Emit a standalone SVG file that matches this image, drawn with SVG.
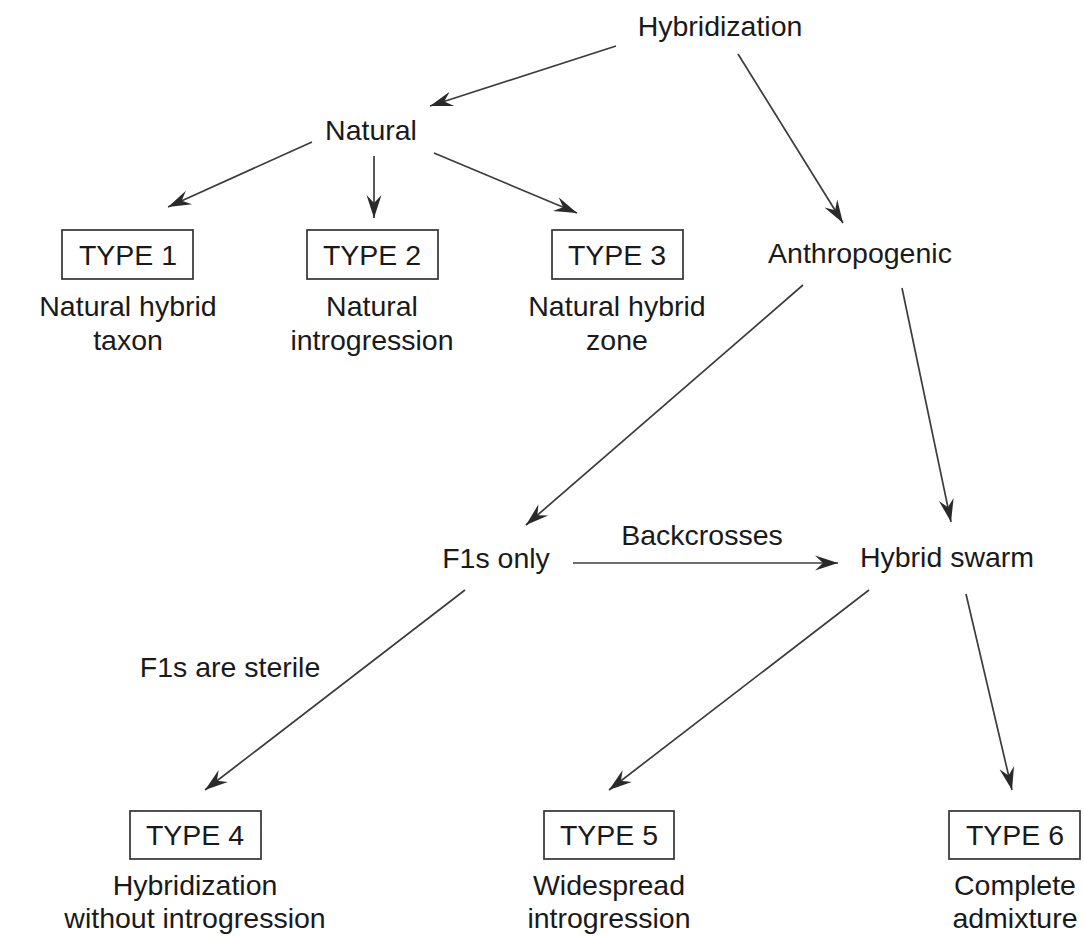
<svg xmlns="http://www.w3.org/2000/svg" width="1084" height="936" viewBox="0 0 1084 936">
<defs>
<style>
text{font-family:"Liberation Sans",Arial,Helvetica,sans-serif;font-size:28.5px;fill:#1a1a1a;text-anchor:middle}
.box{fill:none;stroke:#333;stroke-width:1.7}
.edge{stroke:#3c3c3c;stroke-width:1.7;fill:none;marker-end:url(#ah)}
</style>
<marker id="ah" viewBox="-24 -9 26 18" refX="0" refY="0" markerWidth="26" markerHeight="18" markerUnits="userSpaceOnUse" orient="auto">
<path d="M0,0 L-23,-7.5 L-15,0 L-23,7.5 Z" fill="#2a2a2a"/>
</marker>
</defs>
<rect width="1084" height="936" fill="#fff"/>
<g id="connectors">
<line class="edge" x1="616" y1="46" x2="430" y2="106"/>
<line class="edge" x1="738" y1="54" x2="843" y2="223"/>
<line class="edge" x1="312" y1="142" x2="168" y2="207"/>
<line class="edge" x1="374" y1="156" x2="374" y2="218"/>
<line class="edge" x1="434" y1="153" x2="577" y2="213"/>
<line class="edge" x1="803" y1="285" x2="526" y2="525"/>
<line class="edge" x1="902" y1="288" x2="951" y2="522"/>
<line class="edge" x1="573" y1="563" x2="838" y2="563"/>
<line class="edge" x1="465" y1="590" x2="205" y2="790"/>
<line class="edge" x1="869" y1="590" x2="609" y2="790"/>
<line class="edge" x1="966" y1="594" x2="1012" y2="790"/>
<text x="702" y="545">Backcrosses</text>
<text x="230" y="677">F1s are sterile</text>
</g>
<g id="hybridization"><text x="720" y="36">Hybridization</text></g>
<g id="natural"><text x="371" y="140">Natural</text></g>
<g id="anthropogenic"><text x="860" y="263">Anthropogenic</text></g>
<g id="type1">
<rect class="box" x="62" y="230" width="131" height="49"/>
<text x="128" y="265">TYPE 1</text>
<text x="128" y="316">Natural hybrid</text>
<text x="128" y="350">taxon</text>
</g>
<g id="type2">
<rect class="box" x="307" y="230" width="131" height="49"/>
<text x="372" y="265">TYPE 2</text>
<text x="372" y="316">Natural</text>
<text x="372" y="350">introgression</text>
</g>
<g id="type3">
<rect class="box" x="552" y="230" width="131" height="49"/>
<text x="617" y="265">TYPE 3</text>
<text x="617" y="316">Natural hybrid</text>
<text x="617" y="350">zone</text>
</g>
<g id="f1s"><text x="496" y="568">F1s only</text></g>
<g id="swarm"><text x="947" y="567">Hybrid swarm</text></g>
<g id="type4">
<rect class="box" x="130" y="811" width="131" height="48"/>
<text x="195" y="845">TYPE 4</text>
<text x="195" y="895">Hybridization</text>
<text x="195" y="928">without introgression</text>
</g>
<g id="type5">
<rect class="box" x="544" y="811" width="130" height="48"/>
<text x="609" y="845">TYPE 5</text>
<text x="609" y="895">Widespread</text>
<text x="609" y="928">introgression</text>
</g>
<g id="type6">
<rect class="box" x="949" y="811" width="131" height="48"/>
<text x="1015" y="845">TYPE 6</text>
<text x="1015" y="895">Complete</text>
<text x="1015" y="928">admixture</text>
</g>
</svg>
